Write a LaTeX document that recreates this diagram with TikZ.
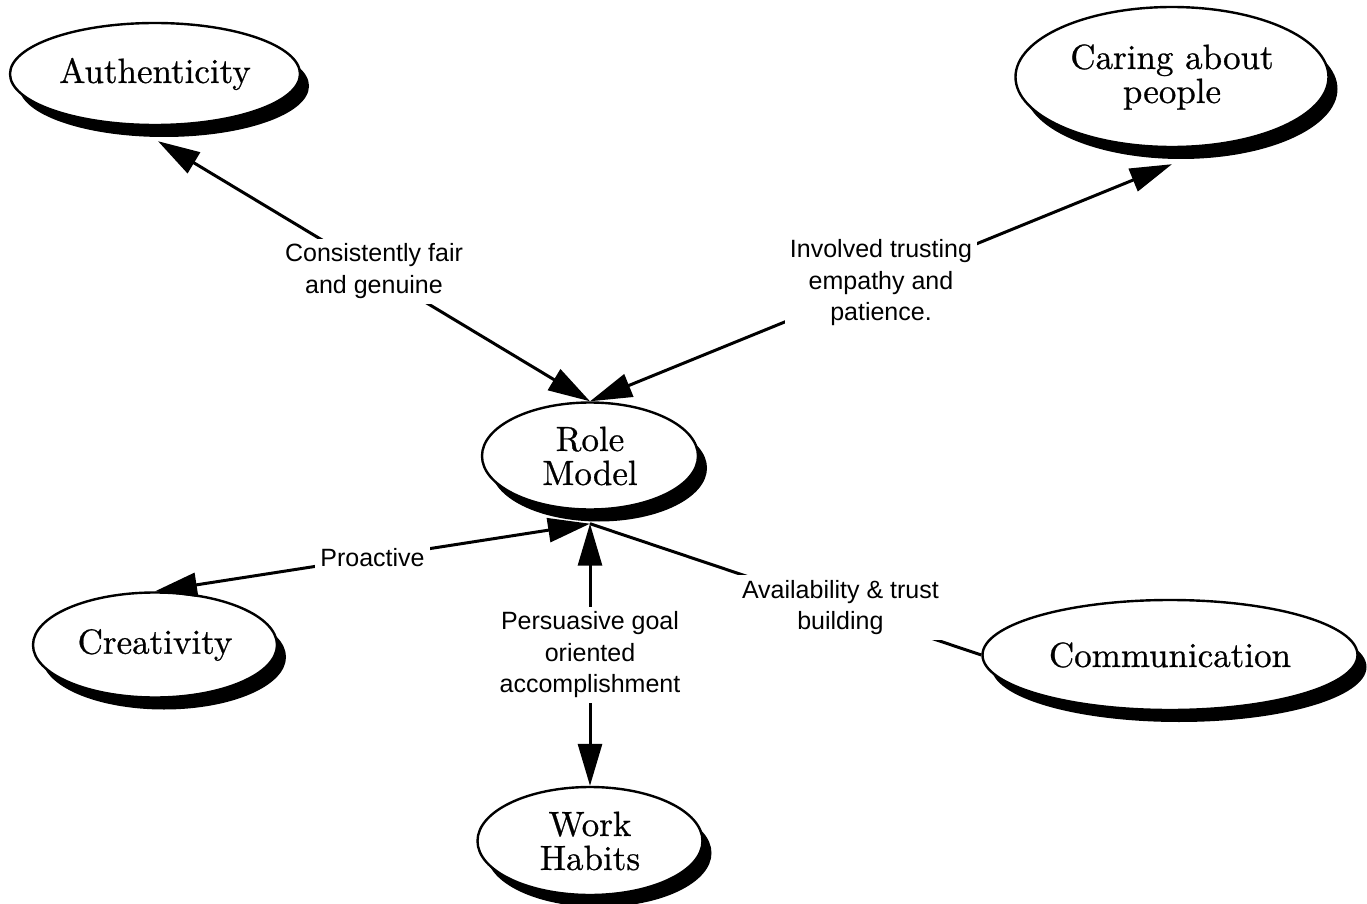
\documentclass[tikz,border=0pt]{standalone}
\usepackage{fontspec}
\newfontfamily\lblfont{Liberation Sans}
\newfontfamily\nodefont{lmroman10-regular}[Extension=.otf, FakeBold=0.7]
\usetikzlibrary{arrows.meta,shapes.geometric,shadows}
\begin{document}
\begin{tikzpicture}[x=0.5pt,y=-0.5pt,
  >={Triangle[length=21pt,width=12pt]},
  concept/.style={ellipse, draw=black, line width=1.2pt, fill=white, inner sep=0pt,
    align=center, font=\nodefont\fontsize{17.5}{17}\selectfont,
    drop shadow={shadow xshift=4.5pt, shadow yshift=-6pt, fill=black, opacity=1}},
  lbl/.style={fill=white, inner sep=2.5pt, align=center,
    font=\lblfont\fontsize{12.5}{15.75}\selectfont},
  link/.style={line width=1.5pt},
]
\useasboundingbox (0,0) rectangle (1367,904);

\node[concept, minimum width=145pt, minimum height=51pt] (auth) at (155,74) {Authenticity};
\node[concept, minimum width=156.5pt, minimum height=70pt] (caring) at (1172,77) {Caring about\\people};
\node[concept, minimum width=108pt, minimum height=53.5pt] (role) at (590,456) {Role\\Model};
\node[concept, minimum width=122pt, minimum height=52.5pt] (creat) at (155,645) {Creativity};
\node[concept, minimum width=187.5pt, minimum height=55pt] (comm) at (1170,655) {Communication};
\node[concept, minimum width=112.5pt, minimum height=54pt] (work) at (590,841) {Work\\Habits};

\draw[link,<->] (role.north) -- node[lbl] (l1) {Consistently fair\\and genuine} ([shift={(1.5pt,-7.5pt)}]auth.south);
\draw[link,<->] (role.north) -- node[lbl] (l2) {Involved trusting\\empathy and\\patience.} ([yshift=-8pt]caring.south);
\draw[link,<->] ([yshift=-6.5pt]role.south) -- node[lbl] (l3) {Proactive} (creat.north);
\draw[link,<->] ([yshift=-6.5pt]role.south) -- node[lbl] (l4) {Persuasive goal\\oriented\\accomplishment} (work.north);
\draw[link] ([yshift=-6.5pt]role.south) -- node[lbl, pos=0.64] (l5) {Availability \& trust\\building} (comm.west);
\end{tikzpicture}
\end{document}
